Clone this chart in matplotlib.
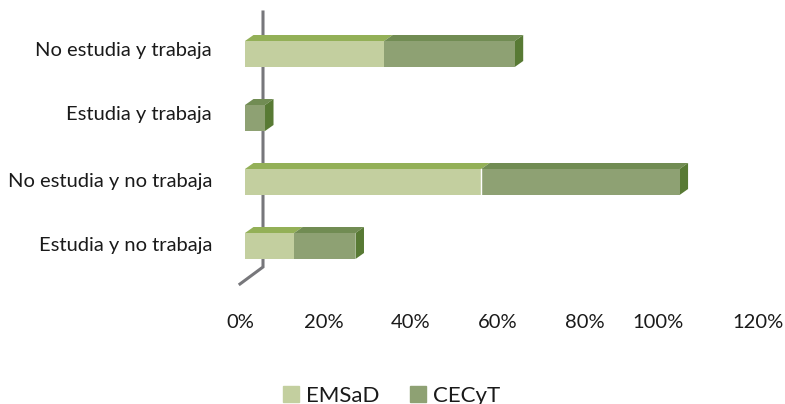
import matplotlib
matplotlib.use("Agg")
import matplotlib.pyplot as plt
from matplotlib.patches import Patch
from matplotlib.transforms import ScaledTranslation

plt.rcParams['font.family'] = ['Lato', 'DejaVu Sans']

categories = ['No estudia y trabaja', 'Estudia y trabaja', 'No estudia y no trabaja', 'Estudia y no trabaja']
emsad = [32.0, 0.0, 54.3, 11.3]
cecyt = [30.0, 4.6, 45.6, 14.1]
x_ticks = [0, 20, 40, 60, 80, 100, 120]
x_labels = ['0%', '20%', '40%', '60%', '80%', '100%', '120%']

W, H = 785, 404
PX_PER_PCT = 4.35
X0 = 245
ROW0, ROW_STEP = 54.0, 64.0
BAR_H = 26 / ROW_STEP
DX, DY = 8.5 / PX_PER_PCT, 6 / ROW_STEP

fig = plt.figure(figsize=(W / 100, H / 100), dpi=100)
ax = fig.add_axes([0, 0, 1, 1])
ax.set_xlim(-X0 / PX_PER_PCT, (W - X0) / PX_PER_PCT)
ax.set_ylim((H - ROW0) / ROW_STEP, -ROW0 / ROW_STEP)
ax.patch.set_alpha(0)
for s in ax.spines.values():
    s.set_visible(False)

LIGHT, LIGHT_TOP = '#C3CF9F', '#93B057'
DARK, DARK_TOP, DARK_SIDE = '#8EA173', '#718C53', '#587A34'
AXIS = '#77777B'
TEXT = '#1A1A1A'

# Depth wall and floor edge of the 3-D frame
wx = 18 / PX_PER_PCT
wy = lambda p: (p - ROW0) / ROW_STEP
ax.plot([wx, wx, -5 / PX_PER_PCT], [wy(12), wy(267), wy(284)],
        color=AXIS, lw=2.2, zorder=1, solid_joinstyle='miter')


def top(left, right, color):
    def draw(y):
        t = y - BAR_H / 2
        ax.fill([left, left + DX, right + DX, right], [t, t - DY, t - DY, t],
                color=color, lw=0, zorder=3)
    return draw


for y, a, b in zip(range(len(categories)), emsad, cecyt):
    ax.barh(y, a, height=BAR_H, color=LIGHT, zorder=4, lw=0)
    ax.barh(y, b, left=a, height=BAR_H, color=DARK, zorder=4, lw=0)
    if a > 0:
        top(0, a, LIGHT_TOP)(y)
    top(a, a + b, DARK_TOP)(y)
    e = a + b
    t, bt = y - BAR_H / 2, y + BAR_H / 2
    ax.fill([e, e + DX, e + DX, e], [t, t - DY, bt - DY, bt],
            color=DARK_SIDE, lw=0, zorder=3)
    if a > 0 and y == 2:
        ax.plot([a, a], [t, bt], color='white', lw=1, zorder=5)

ax.set_xticks(x_ticks, x_labels)
ax.set_yticks(range(len(categories)), categories)
ax.tick_params(length=0, labelsize=14.5, labelcolor=TEXT)
ax.tick_params(axis='x', direction='in', pad=0)

# The original's labels sit off their grid positions because of the 3-D projection
x_centres = [240, 324, 411, 498, 585, 658, 758]
x_label_y = 322.5
for lab, v, c in zip(ax.get_xticklabels(), x_ticks, x_centres):
    off = c - (X0 + v * PX_PER_PCT)
    lab.set_transform(lab.get_transform() + ScaledTranslation(off / 100, 0, fig.dpi_scale_trans))
    lab.set_y(1 - x_label_y / H)
    lab.set_verticalalignment('center')

y_off = [-5, -5, -2, -2]
for lab, o in zip(ax.get_yticklabels(), y_off):
    lab.set_transform(ax.get_yaxis_transform() + ScaledTranslation(212 / 100, -o / 100, fig.dpi_scale_trans))
    lab.set_horizontalalignment('right')

handles = [Patch(color=LIGHT, label='EMSaD'), Patch(color=DARK, label='CECyT')]
fig.legend(handles=handles, loc='lower left', bbox_to_anchor=(283 / W, -0.004), ncol=2, frameon=False,
           fontsize=16, handlelength=0.72, handleheight=0.72, handletextpad=0.3, columnspacing=1.4,
           borderpad=0, borderaxespad=0, labelcolor=TEXT)

fig.savefig('out.png', dpi=100)
